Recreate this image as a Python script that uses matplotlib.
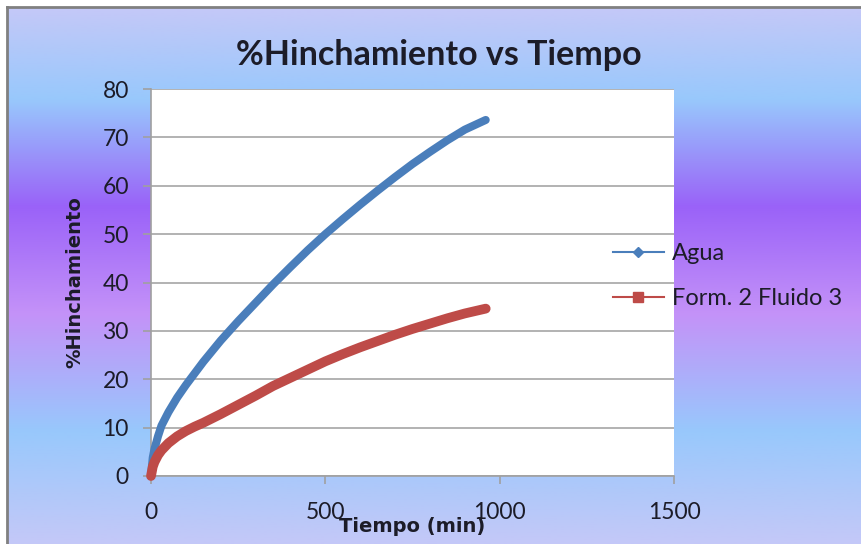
import numpy as np
import matplotlib
matplotlib.use('Agg')
import matplotlib.pyplot as plt
from matplotlib.colors import LinearSegmentedColormap
from matplotlib.lines import Line2D

plt.rcParams['font.family'] = ['Lato', 'DejaVu Sans']

# datos
tiempo = [0, 5, 10, 20, 30, 50, 75, 100, 125, 150, 200, 250, 300, 350, 400,
          450, 500, 550, 600, 650, 700, 750, 800, 850, 900, 960]
agua = [0, 3.8, 5.6, 8.2, 10.4, 13.2, 16.2, 18.8, 21.2, 23.6, 28.0, 32.0,
        35.8, 39.6, 43.2, 46.7, 50.0, 53.1, 56.1, 59.0, 61.8, 64.5, 67.0,
        69.4, 71.6, 73.6]
fluido3 = [0, 1.9, 2.9, 4.3, 5.3, 6.8, 8.2, 9.3, 10.2, 11.0, 12.8, 14.7,
           16.6, 18.6, 20.3, 22.0, 23.7, 25.2, 26.6, 27.9, 29.2, 30.4, 31.5,
           32.6, 33.6, 34.6]
series = ['Agua', 'Form. 2 Fluido 3']
xticks = [0, 500, 1000, 1500]
yticks = [0, 10, 20, 30, 40, 50, 60, 70, 80]

azul = '#4a7ebb'
rojo = '#be4b48'
texto = '#1c1c28'

W, H = 861, 544
fig = plt.figure(figsize=(W / 100, H / 100), dpi=100)
fig.patch.set_facecolor('white')

# fondo degradado tipo Excel
bg = fig.add_axes([8 / W, 0, 1 - 8 / W, 1 - 8 / H], zorder=-10)
cmap = LinearSegmentedColormap.from_list('fondo', [
    (0.0, '#c4c8f8'), (0.17, '#98c8fc'), (0.37, '#9a62f8'),
    (0.57, '#c492f8'), (0.79, '#98c8fc'), (1.0, '#c4c8f8')])
grad = np.linspace(0, 1, 256).reshape(-1, 1)
bg.imshow(grad, aspect='auto', cmap=cmap, extent=[0, 1, 0, 1], origin='upper')
bg.axis('off')

# borde gris
fig.add_artist(Line2D([7 / W, 1], [1 - 7 / H, 1 - 7 / H], color='#808080', lw=2))
fig.add_artist(Line2D([7 / W, 7 / W], [0, 1 - 7 / H], color='#808080', lw=2))

ax = fig.add_axes([151 / W, 1 - 476 / H, (674 - 151) / W, (476 - 89) / H])
ax.set_facecolor('white')

ax.plot(tiempo, agua, color=azul, lw=5.8, solid_capstyle='round',
        solid_joinstyle='round', clip_on=False, zorder=3)
ax.plot(tiempo, fluido3, color=rojo, lw=7.0, solid_capstyle='round',
        solid_joinstyle='round', clip_on=False, zorder=4)

ax.set_xlim(0, 1500)
ax.set_ylim(0, 80)
ax.set_xticks(xticks)
ax.set_yticks(yticks)
ax.grid(axis='y', color='#a6a6a6', lw=1.2)
ax.set_axisbelow(True)

for s in ['top', 'right']:
    ax.spines[s].set_visible(False)
for s in ['left', 'bottom']:
    ax.spines[s].set_color('#a0a0a0')
    ax.spines[s].set_linewidth(1.2)

ax.tick_params(axis='both', colors='#a0a0a0', labelcolor=texto, labelsize=16.5,
               length=6, width=1.2)
ax.tick_params(axis='y', pad=10)
ax.tick_params(axis='x', pad=13)

# el titulo va centrado en el area del grafico, no en el area de trazado
ax.set_title('%Hinchamiento vs Tiempo', fontsize=24.5, fontweight='bold',
             color=texto, pad=17, x=(439 - 151) / 523)
ax.set_xlabel('Tiempo (min)', fontsize=14, fontweight='bold', color=texto,
              family='DejaVu Sans')
ax.set_ylabel('%Hinchamiento', fontsize=14, fontweight='bold', color=texto,
              family='DejaVu Sans')
ax.xaxis.set_label_coords(0.5, -0.105)
ax.yaxis.set_label_coords(-0.128, 0.5)

handles = [
    Line2D([], [], color=azul, lw=1.5, marker='D', markersize=5),
    Line2D([], [], color=rojo, lw=1.5, marker='s', markersize=6.5),
]
fig.legend(handles, series, loc='center left', bbox_to_anchor=(613 / W, 1 - 276 / H),
           frameon=False, fontsize=17, handlelength=2.15, handletextpad=0.33,
           labelspacing=1.0, borderpad=0, borderaxespad=0, labelcolor=texto)

fig.savefig('out.png', dpi=100)
